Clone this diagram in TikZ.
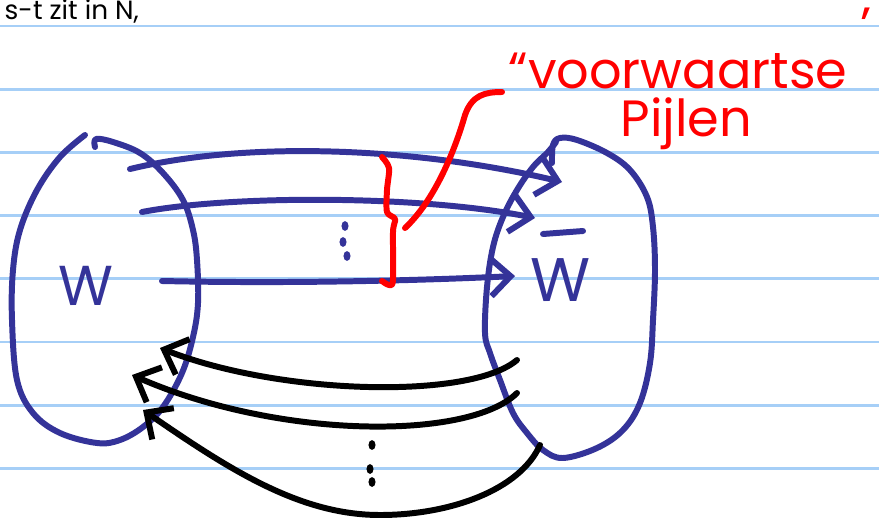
\documentclass[tikz,border=0pt]{standalone}
\usepackage{fontspec}
\setmainfont{Poppins}
\usetikzlibrary{arrows.meta}
\definecolor{inkblue}{HTML}{343399}
\definecolor{inkred}{HTML}{FF0000}
\definecolor{rulecol}{HTML}{A6CFF7}

\begin{document}
\begin{tikzpicture}[x=0.01cm, y=-0.01cm,
    ink/.style={line width=1.7pt, line cap=round, line join=round},
    setrim/.style={ink, draw=inkblue},
    ruling/.style={draw=rulecol, line width=0.8pt},
    fwd/.style={ink, draw=inkblue, -{Straight Barb[length=2mm, width=3.8mm]}},
    bwd/.style={ink, draw=black, {Straight Barb[length=2mm, width=3.8mm]}-},
    brace/.style={ink, draw=inkred},
    note/.style={text=inkred, font=\fontsize{14.5}{16}\selectfont, inner sep=0pt},
    setname/.style={text=inkblue, font=\fontsize{16}{18}\selectfont, inner sep=0pt},
]
\useasboundingbox (0,0) rectangle (879,521);
\clip (0,0) rectangle (879,521);
\fill[white] (0,0) rectangle (879,521);

% ruled paper
\foreach \k in {0,...,7} {
    \draw[ruling] (0,{26+63.2*\k}) -- (879,{26+63.2*\k});
}

% line above
\node[anchor=base west, inner sep=0pt, font=\fontsize{7.5}{9}\selectfont] (lbltop) at (4,19) {s-t zit in N,};

% the two sets
\draw[setrim] plot[smooth, tension=0.6] coordinates {(85,135) (60,157) (37,190) (20,230) (13,270) (12,320) (17,380) (33,413) (60,433) (97,443) (120,440) (143,427) (163,407) (182,373) (193,337) (198,303) (197,260) (193,230) (183,200) (163,173) (140,153) (113,142) (96,139) (95,147)};
\draw[setrim] plot[smooth, tension=0.6] coordinates {(552,163) (553,145) (560,138) (577,140) (607,153) (630,170) (647,197) (653,227) (655,270) (653,320) (650,363) (640,403) (623,430) (597,448) (563,458) (543,450) (527,433) (513,413) (500,380) (490,353) (485,333) (487,287) (493,247) (503,217) (517,190) (533,167) (548,152) (556,142)};
\node[setname] (lblW) at (86,286) {W};
\node[setname, font=\fontsize{17.5}{19}\selectfont] (lblWbar) at (561,280) {W};
\draw[setrim] (543,234) -- (583,231);

% forward arrows
\coordinate (f1s) at (130,169);  \coordinate (f1e) at (562,182);
\coordinate (f2s) at (142,212);  \coordinate (f2e) at (535,218);
\coordinate (f3s) at (162,281);  \coordinate (f3e) at (515,276);
\draw[fwd] (f1s) .. controls (250,140) and (420,148) .. (f1e);
\draw[fwd] (f2s) .. controls (230,195) and (420,195) .. (f2e);
\draw[fwd] (f3s) .. controls (300,284) and (430,280) .. (f3e);
\foreach \p in {(345,226),(343,242),(347,256)} {
    \fill[inkblue] \p ellipse [x radius=1pt, y radius=1.4pt];
}

% backward arrows
\coordinate (b1s) at (517,360);  \coordinate (b1e) at (160,348);
\coordinate (b2s) at (517,393);  \coordinate (b2e) at (132,375);
\coordinate (b3s) at (540,445);  \coordinate (b3e) at (143,410);
\draw[bwd] (b1e) .. controls (280,395) and (470,400) .. (b1s);
\draw[bwd] (b2e) .. controls (280,440) and (470,440) .. (b2s);
\draw[bwd] (b3e) .. controls (230,470) and (300,515) .. (380,515) .. controls (450,515) and (520,490) .. (b3s);
\foreach \p in {(372,445),(370,469),(372,482)} {
    \fill \p ellipse [x radius=1pt, y radius=1.4pt];
}

% brace and label
\draw[brace] plot[smooth, tension=0.5] coordinates {(382,157) (389,168) (387,190) (387,212) (395,219) (393,232) (393,280) (389,285) (382,281)};
\coordinate (bracetip) at (405,228);
\coordinate (leadend) at (502,92);
\draw[brace] (bracetip) .. controls (435,200) and (455,150) .. (465,115) .. controls (472,95) and (485,92) .. (leadend);
\node[note, anchor=base west] (lblfwd) at (508,88) {“voorwaartse};
\node[note] (lblquote) at (866,26) {’};
\node[note, anchor=base west] (lblpijl) at (620,136) {Pijlen};
\end{tikzpicture}
\end{document}
